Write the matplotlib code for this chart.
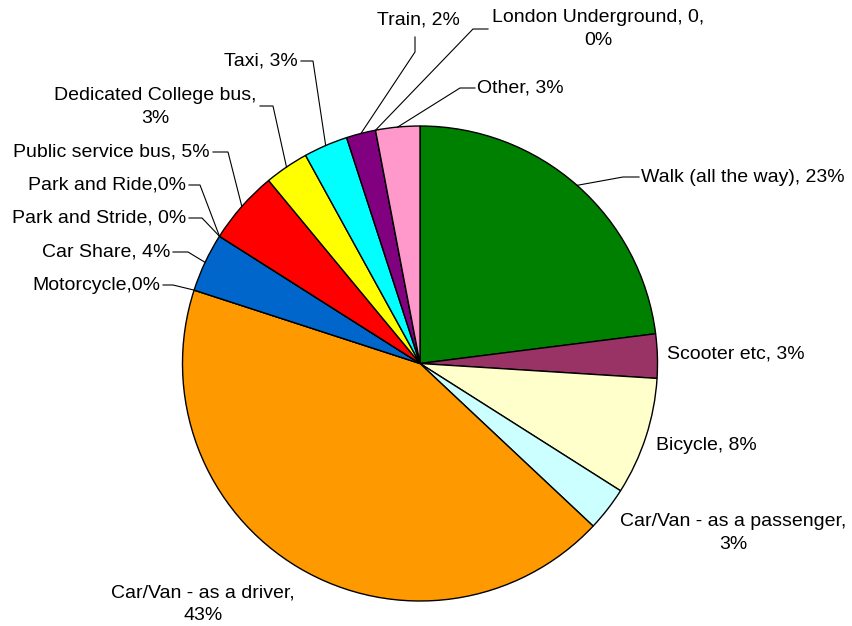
import numpy as np
import matplotlib
matplotlib.use("Agg")
import matplotlib.pyplot as plt

plt.rcParams["font.family"] = ["Liberation Sans", "DejaVu Sans"]

# travel modes, clockwise from 12 o'clock
modes = ["Walk (all the way)", "Scooter etc", "Bicycle", "Car/Van - as a passenger",
         "Car/Van - as a driver", "Motorcycle", "Car Share", "Park and Stride",
         "Park and Ride", "Public service bus", "Dedicated College bus", "Taxi",
         "Train", "London Underground", "Other"]
share = [23, 3, 8, 3, 43, 0, 4, 0, 0, 5, 3, 3, 2, 0, 3]
colors = ["#008000", "#993366", "#FFFFCC", "#CCFFFF", "#FF9900", "#333399", "#0066CC",
          "#808080", "#969696", "#FF0000", "#FFFF00", "#00FFFF", "#800080", "#C0C0C0",
          "#FF99CC"]
label_text = ["Walk (all the way), 23%", "Scooter etc, 3%", "Bicycle, 8%",
              "Car/Van - as a passenger,\n3%", "Car/Van - as a driver,\n43%",
              "Motorcycle,0%", "Car Share, 4%", "Park and Stride, 0%", "Park and Ride,0%",
              "Public service bus, 5%", "Dedicated College bus,\n3%", "Taxi, 3%",
              "Train, 2%", "London Underground, 0,\n0%", "Other, 3%"]

W, H = 852, 626
CX, CY, R = 420, 363.5, 237.5

def px(x, y):
    return (x - CX) / R, (CY - y) / R

fig = plt.figure(figsize=(W / 100, H / 100), dpi=100)
ax = fig.add_axes([0, 0, 1, 1])

wedges, _ = ax.pie(share, colors=colors, startangle=90, counterclock=False, radius=1,
                   wedgeprops=dict(edgecolor="black", linewidth=1.0))
ax.set_xlim(-CX / R, (W - CX) / R)
ax.set_ylim(-(H - CY) / R, CY / R)
ax.set_aspect("equal")
ax.axis("off")

FS = 14
# text anchor (pixels), alignment, and leader bend point (pixels) or None
layout = {
    0: ((641, 177), "left", (623, 177)),
    1: ((667, 354), "left", None),
    2: ((656, 445), "left", None),
    3: ((733, 533), "center", None),
    4: ((203, 604), "center", None),
    5: ((160, 285), "right", (173, 285)),
    6: ((170, 252), "right", (188, 252)),
    7: ((186, 218), "right", (202, 218)),
    8: ((186, 185), "right", (200, 185)),
    9: ((210, 152), "right", (228, 152)),
    10: ((155, 107), "center", (273, 106)),
    11: ((298, 61), "right", (313, 61)),
    12: ((418, 20), "center", (415, 52)),
    13: ((598, 29), "center", (473, 29)),
    14: ((477, 88), "left", (460, 88)),
}
line_start = {10: (260, 106), 12: (415, 37), 13: (488, 29)}

for i, w in enumerate(wedges):
    (tx, ty), ha, bend = layout[i]
    ax.text(*px(tx, ty), label_text[i], fontsize=FS, ha=ha, va="center",
            multialignment="center", color="black", linespacing=1.45)
    if bend is None:
        continue
    if share[i] == 0:
        ang = np.deg2rad(w.theta1)
    else:
        ang = np.deg2rad((w.theta1 + w.theta2) / 2)
    edge = (np.cos(ang), np.sin(ang))
    if i in line_start:
        start = px(*line_start[i])
    else:
        start = px(tx - 2 if ha == "left" else tx + 3, ty)
    b = px(*bend)
    ax.plot([start[0], b[0], edge[0]], [start[1], b[1], edge[1]],
            color="black", linewidth=0.8, solid_joinstyle="miter")

fig.savefig("out.png", dpi=100, facecolor="white")
